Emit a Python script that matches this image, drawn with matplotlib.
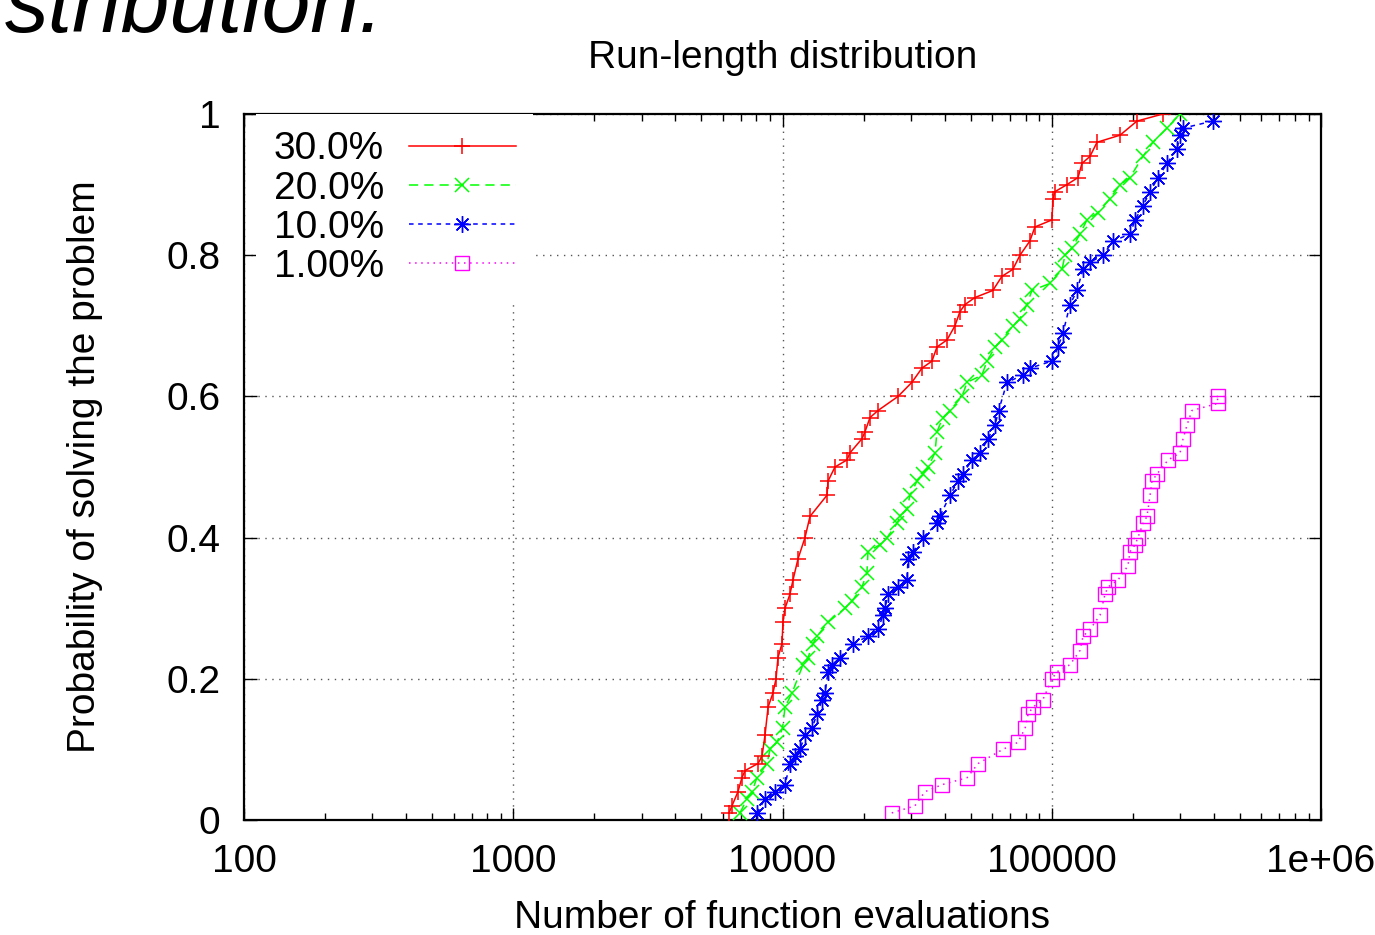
import matplotlib
matplotlib.use('Agg')
import matplotlib.pyplot as plt
from matplotlib.ticker import FixedLocator, FixedFormatter, LogLocator, NullFormatter

plt.rcParams['font.family'] = ['Liberation Sans', 'DejaVu Sans']

# ---------------- data ----------------
labels = ["30.0%", "20.0%", "10.0%", "1.00%"]

red_x = [6330, 6490, 6830, 7070, 7260, 8110, 8390, 8610, 8840, 9220, 9460, 9620,
         9960, 10040, 10220, 10660, 10940, 11420, 12120, 12650, 14630, 14760, 15660,
         17360, 17800, 19730, 20250, 21130, 22630, 26870, 30250, 32950, 35900, 37470,
         40830, 43700, 45600, 47600, 51800, 60400, 65300, 71700, 76200, 82900, 86600,
         100200, 101000, 102800, 113900, 125200, 129500, 138700, 147300, 179300,
         207300, 258700]
red_y = [0.01, 0.02, 0.04, 0.06, 0.07, 0.08, 0.09, 0.12, 0.16, 0.18, 0.20, 0.23,
         0.25, 0.28, 0.30, 0.32, 0.34, 0.37, 0.40, 0.43, 0.46, 0.48, 0.50,
         0.51, 0.52, 0.54, 0.55, 0.57, 0.58, 0.60, 0.62, 0.64, 0.65, 0.67,
         0.68, 0.70, 0.72, 0.73, 0.74, 0.75, 0.77, 0.78, 0.80, 0.82, 0.84,
         0.85, 0.88, 0.89, 0.90, 0.91, 0.93, 0.94, 0.96, 0.97,
         0.99, 1.00]

green_x = [6950, 7380, 7700, 8040, 8760, 8990, 9540, 10000, 10220, 10850, 11920,
           12440, 12980, 13430, 14760, 17060, 18120, 19730, 20590, 20770, 23020,
           24440, 26630, 27310, 28990, 29750, 31600, 33240, 34730, 36840, 37470,
           39400, 41900, 46400, 48500, 55000, 57500, 61600, 65300, 71700, 76200,
           80800, 84400, 98500, 109200, 112000, 118900, 127300, 135200, 148500,
           164500, 179300, 195200, 218100, 237800, 268000, 299500]
green_y = [0.01, 0.03, 0.04, 0.06, 0.08, 0.10, 0.11, 0.13, 0.16, 0.18, 0.22,
           0.23, 0.25, 0.26, 0.28, 0.30, 0.31, 0.33, 0.35, 0.38, 0.39,
           0.40, 0.42, 0.43, 0.44, 0.46, 0.48, 0.49, 0.50, 0.52, 0.55,
           0.57, 0.58, 0.60, 0.62, 0.63, 0.65, 0.67, 0.68, 0.70, 0.71,
           0.73, 0.75, 0.76, 0.78, 0.80, 0.81, 0.83, 0.85, 0.86,
           0.88, 0.90, 0.91, 0.94, 0.96, 0.98, 1.00]

blue_x = [8040, 8610, 9380, 10220, 10660, 11130, 11610, 12120, 12870, 13430, 14020,
          14380, 14760, 15280, 16360, 18280, 20770, 22630, 23610, 24020, 24660,
          26870, 28990, 29250, 30530, 33240, 37470, 38400, 41900, 44800, 46800,
          50500, 54200, 58000, 61600, 63500, 68200, 78000, 82900, 100200, 105500,
          110100, 116900, 124100, 130600, 138700, 155000, 168900, 195200, 204000,
          218100, 231800, 248300, 268000, 291500, 299500, 307400, 396600]
blue_y = [0.01, 0.03, 0.04, 0.05, 0.08, 0.09, 0.10, 0.12, 0.13, 0.15, 0.17,
          0.18, 0.21, 0.22, 0.23, 0.25, 0.26, 0.27, 0.29, 0.30, 0.32,
          0.33, 0.34, 0.37, 0.38, 0.40, 0.42, 0.43, 0.46, 0.48, 0.49,
          0.51, 0.52, 0.54, 0.56, 0.58, 0.62, 0.63, 0.64, 0.65, 0.67,
          0.69, 0.73, 0.75, 0.78, 0.79, 0.80, 0.82, 0.83, 0.85,
          0.87, 0.89, 0.91, 0.93, 0.95, 0.97, 0.98, 0.99]

magenta_x = [25450, 31020, 33790, 39120, 48500, 53300, 65800, 74900, 79600, 81700,
             85200, 92600, 100200, 104600, 116900, 127300, 130600, 138700, 151100,
             157700, 161800, 176200, 191800, 195200, 204000, 209000, 218100, 225800,
             231800, 235600, 245900, 270500, 299500, 307400, 318300, 331600, 413000,
             413000]
magenta_y = [0.01, 0.02, 0.04, 0.05, 0.06, 0.08, 0.10, 0.11, 0.13, 0.15,
             0.16, 0.17, 0.20, 0.21, 0.22, 0.24, 0.26, 0.27, 0.29,
             0.32, 0.33, 0.34, 0.36, 0.38, 0.39, 0.40, 0.42, 0.43,
             0.46, 0.48, 0.49, 0.51, 0.52, 0.54, 0.56, 0.58, 0.59,
             0.60]

x_ticks = [100, 1000, 10000, 100000, 1000000]
x_tick_labels = ["100", "1000", "10000", "100000", "1e+06"]
y_ticks = [0, 0.2, 0.4, 0.6, 0.8, 1.0]
y_tick_labels = ["0", "0.2", "0.4", "0.6", "0.8", "1"]

# ---------------- figure ----------------
fig = plt.figure(figsize=(13.75, 9.35), dpi=100)
ax = fig.add_axes([244/1375, 1-820/935, (1321-244)/1375, (820-114)/935])

asterisk = (8, 2, 0)
ax.plot(red_x, red_y, color='#ff0000', lw=1.1, ls='-', marker='+', ms=12, mew=1.1,
        label=labels[0], zorder=5)
ax.plot(green_x, green_y, color='#00ff00', lw=1.1, dashes=(6, 4), marker='x', ms=10, mew=1.1,
        label=labels[1], zorder=4)
ax.plot(blue_x, blue_y, color='#0000ff', lw=1.1, dashes=(3, 3), marker=asterisk, ms=12, mew=1.0,
        label=labels[2], zorder=3)
ax.plot(magenta_x, magenta_y, color='#ff00ff', lw=1.1, dashes=(1, 3), marker='s', ms=10, mew=1.0,
        mfc='none', label=labels[3], zorder=2)

ax.set_xscale('log')
ax.set_xlim(100, 1e6)
ax.set_ylim(0, 1)
ax.xaxis.set_major_locator(FixedLocator(x_ticks))
ax.xaxis.set_major_formatter(FixedFormatter(x_tick_labels))
ax.xaxis.set_minor_locator(LogLocator(base=10, subs=range(2, 10)))
ax.xaxis.set_minor_formatter(NullFormatter())
ax.yaxis.set_major_locator(FixedLocator(y_ticks))
ax.yaxis.set_major_formatter(FixedFormatter(y_tick_labels))

ax.tick_params(which='both', direction='in', top=True, right=True, width=1.0,
               labelsize=28, colors='black')
ax.tick_params(which='major', length=9)
ax.tick_params(which='minor', length=5)
ax.tick_params(axis='x', which='major', pad=17)
ax.tick_params(axis='y', which='major', pad=17)
for s in ax.spines.values():
    s.set_linewidth(1.6)

ax.grid(True, which='major', color='#555555', linestyle=(0, (1, 4)), linewidth=1.0, zorder=0)
ax.set_axisbelow(True)

ax.set_title("Run-length distribution", fontsize=28, pad=33)
ax.set_xlabel("Number of function evaluations", fontsize=28)
ax.xaxis.set_label_coords(0.5, -0.114)
ax.set_ylabel("Probability of solving the problem", fontsize=28)
ax.yaxis.set_label_coords(-0.131, 0.5)

leg = ax.legend(loc='upper left', bbox_to_anchor=(12/1077, 1.0), borderaxespad=0,
                markerfirst=False, fontsize=28, handlelength=2.75, handletextpad=0.64,
                labelspacing=0.08, borderpad=0.45, frameon=True, fancybox=False,
                numpoints=1)
leg.get_frame().set_facecolor('white')
leg.get_frame().set_edgecolor('none')
leg.get_frame().set_alpha(1.0)

fig.text(5/1375, 1-32/935, "stribution.", fontsize=63, style='italic',
         ha='left', va='baseline')

fig.savefig('out.png', dpi=100)
